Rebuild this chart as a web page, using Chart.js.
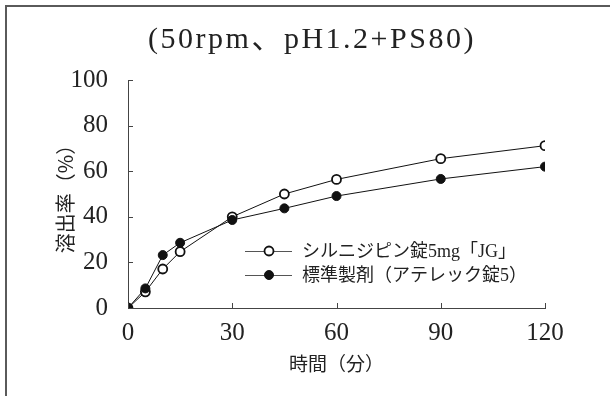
<!DOCTYPE html>
<html>
<head>
<meta charset="utf-8">
<script src="https://cdn.jsdelivr.net/npm/chart.js@4/dist/chart.umd.min.js"></script>
<style>
  html, body { margin: 0; padding: 0; background: #fff; }
  #wrap { position: relative; width: 610px; height: 396px; }
</style>
</head>
<body>
<div id="wrap"><canvas id="chart" width="610" height="396"></canvas></div>
<script>
// 溶出試験データ
const chartTitle = '(50rpm、pH1.2+PS80)';
const times = [0, 5, 10, 15, 30, 45, 60, 90, 120];
const testValues = [0, 7.1, 17.1, 24.7, 40.0, 50.0, 56.4, 65.5, 71.2];
const refValues = [0, 8.6, 23.2, 28.6, 38.6, 43.7, 49.1, 56.6, 62.0];
const seriesLabels = ['シルニジピン錠5mg「JG」', '標準製剤（アテレック錠5）'];
const xTicks = [0, 30, 60, 90, 120];
const yTicks = [0, 20, 40, 60, 80, 100];
const xTitle = '時間（分）';
const yTitle = '溶出率（%）';

const serif = '"Liberation Serif", "Noto Sans CJK JP", serif';
const gothic = '"Noto Sans CJK JP", sans-serif';

const toPoints = vals => vals.map((v, i) => ({ x: times[i], y: v }));

// 外枠（上と左）とタイトル
const framePlugin = {
  id: 'frame',
  beforeDraw(chart) {
    const ctx = chart.ctx;
    ctx.save();
    ctx.strokeStyle = '#5a5a5a';
    ctx.lineWidth = 2;
    ctx.beginPath();
    ctx.moveTo(6, 396); ctx.lineTo(6, 6); ctx.lineTo(610, 6);
    ctx.stroke();
    ctx.restore();
  },
  afterDraw(chart) {
    const ctx = chart.ctx;
    ctx.save();
    ctx.font = '30px ' + serif;
    ctx.letterSpacing = '2.5px';
    ctx.fillStyle = '#222';
    ctx.textAlign = 'center';
    ctx.textBaseline = 'alphabetic';
    ctx.fillText(chartTitle, 312, 48);
    ctx.restore();
  }
};

// 内向きの目盛り線
const innerTicks = {
  id: 'innerTicks',
  afterDraw(chart) {
    const { ctx, scales: { x, y } } = chart;
    ctx.save();
    ctx.strokeStyle = '#444';
    ctx.lineWidth = 1;
    ctx.beginPath();
    x.ticks.forEach(t => {
      const px = Math.round(x.getPixelForValue(t.value)) + 0.5;
      ctx.moveTo(px, y.bottom); ctx.lineTo(px, y.bottom - 5);
    });
    y.ticks.forEach(t => {
      const py = Math.round(y.getPixelForValue(t.value)) + 0.5;
      ctx.moveTo(x.left, py); ctx.lineTo(x.left + 5, py);
    });
    ctx.stroke();
    ctx.restore();
  }
};

// グラフ内の凡例
const innerLegend = {
  id: 'innerLegend',
  afterDraw(chart) {
    const ctx = chart.ctx;
    ctx.save();
    [0, 1].forEach((idx, r) => {
      const ds = chart.data.datasets[idx];
      const yy = 251 + r * 24;
      ctx.strokeStyle = '#555';
      ctx.lineWidth = 1;
      ctx.beginPath();
      ctx.moveTo(245, yy + 0.5); ctx.lineTo(292, yy + 0.5);
      ctx.stroke();
      ctx.beginPath();
      ctx.arc(269, yy, ds.pointRadius, 0, Math.PI * 2);
      ctx.fillStyle = ds.pointBackgroundColor;
      ctx.fill();
      ctx.lineWidth = ds.pointBorderWidth;
      ctx.strokeStyle = ds.pointBorderColor;
      ctx.stroke();
      ctx.font = '18px ' + serif;
      ctx.fillStyle = '#222';
      ctx.textAlign = 'left';
      ctx.textBaseline = 'middle';
      ctx.fillText(ds.label, 302, yy + 1);
    });
    ctx.restore();
  }
};

const tickFont = { family: serif, size: 25 };

new Chart(document.getElementById('chart'), {
  type: 'line',
  data: {
    datasets: [
      {
        label: seriesLabels[0], data: toPoints(testValues), order: 1,
        borderColor: '#111', borderWidth: 1, pointRadius: 4.5, pointHoverRadius: 4.5,
        pointBackgroundColor: '#fff', pointBorderColor: '#111', pointBorderWidth: 1.8
      },
      {
        label: seriesLabels[1], data: toPoints(refValues), order: 0,
        borderColor: '#111', borderWidth: 1, pointRadius: 4.5, pointHoverRadius: 4.5,
        pointBackgroundColor: '#111', pointBorderColor: '#111', pointBorderWidth: 1
      }
    ]
  },
  options: {
    responsive: false, animation: false,
    layout: { padding: { top: 80, right: 65, bottom: 0, left: 0 } },
    plugins: { legend: { display: false }, title: { display: false }, tooltip: { enabled: false } },
    scales: {
      x: {
        type: 'linear', min: 0, max: 120,
        afterBuildTicks: s => { s.ticks = xTicks.map(v => ({ value: v })); },
        afterFit: s => { s.height = 88; },
        grid: { drawOnChartArea: false, drawTicks: false },
        border: { display: true, color: '#444', width: 1 },
        ticks: { color: '#222', font: tickFont, padding: 10, maxRotation: 0 },
        title: { display: true, text: xTitle, color: '#222', font: { family: gothic, size: 19 }, padding: { top: 0, bottom: 21 } }
      },
      y: {
        min: 0, max: 100,
        afterBuildTicks: s => { s.ticks = yTicks.map(v => ({ value: v })); },
        afterFit: s => { s.width = 128; },
        grid: { drawOnChartArea: false, drawTicks: false },
        border: { display: true, color: '#444', width: 1 },
        ticks: { color: '#222', font: tickFont, padding: 20 },
        title: { display: true, text: yTitle, color: '#222', font: { family: gothic, size: 20 }, padding: { top: 53, bottom: 0 } }
      }
    }
  },
  plugins: [framePlugin, innerTicks, innerLegend]
});
</script>
</body>
</html>
